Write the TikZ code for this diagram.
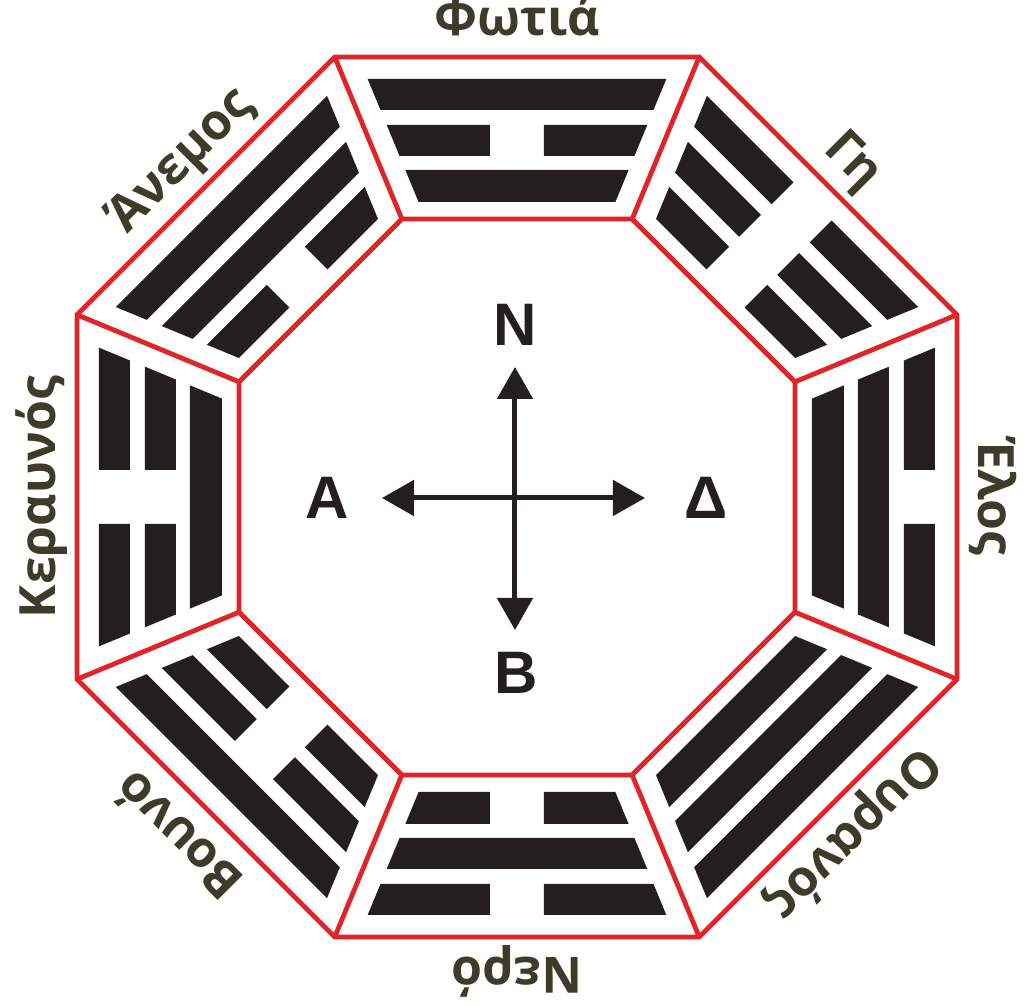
\documentclass[tikz,border=0pt]{standalone}
\usepackage{fontspec}
\usepackage{xcolor}
\usepackage{tikz}
\usetikzlibrary{arrows.meta,positioning}

\newfontfamily\lblfont{Open Sans}
\newfontfamily\dirfont{Liberation Sans}

\definecolor{octred}{RGB}{224,36,40}
\definecolor{barblack}{RGB}{35,31,32}
\definecolor{lblolive}{RGB}{61,60,42}

\begin{document}
\begin{tikzpicture}[
    x=0.5pt, y=0.5pt,
    octline/.style={draw=octred, line width=2.4pt, line join=miter},
    bar/.style={fill=barblack},
    lbl/.style={font=\lblfont\bfseries\fontsize{25}{29}\selectfont, text=lblolive, inner sep=0pt},
    dirlbl/.style={font=\dirfont\bfseries\fontsize{30}{34}\selectfont, text=barblack, inner sep=0pt},
    arrowline/.style={line width=2.5pt, draw=barblack, -{Triangle[length=16pt,width=17.5pt]}},
]
    \useasboundingbox (-517,-509) rectangle (507,497);

    % octagon corners
    \foreach \k in {0,...,7} {
        \coordinate (o\k) at (22.5+45*\k:476.3);
        \coordinate (i\k) at (22.5+45*\k:300.9);
    }

    % trigrams, outer / middle / inner line (1 = solid, 0 = broken)
    \foreach \ang/\lo/\lm/\li/\name [count=\n] in {
        90/1/0/1/Φωτιά, 45/0/0/0/Γη, 0/0/1/1/Έλος, -45/1/1/1/Ουρανός,
        -90/0/1/0/Νερό, -135/1/0/0/Βουνό, 180/0/0/1/Κεραυνός, 135/1/1/0/Άνεμος} {
        \begin{scope}[rotate=\ang-90]
            \foreach \val/\ra/\rb in {\lo/387/418, \lm/341/372, \li/295/327} {
                \ifnum\val=1
                    \fill[bar] ({-(\rb*0.41421-23.8)},\rb) -- ({\rb*0.41421-23.8},\rb)
                        -- ({\ra*0.41421-23.8},\ra) -- ({-(\ra*0.41421-23.8)},\ra) -- cycle;
                \else
                    \fill[bar] ({-(\rb*0.41421-23.8)},\rb) -- (-27,\rb)
                        -- (-27,\ra) -- ({-(\ra*0.41421-23.8)},\ra) -- cycle;
                    \fill[bar] (27,\rb) -- ({\rb*0.41421-23.8},\rb)
                        -- ({\ra*0.41421-23.8},\ra) -- (27,\ra) -- cycle;
                \fi
            }
        \end{scope}
        \node[lbl, rotate=\ang-90, anchor=base] (trig\n) at (\ang:461) {\name};
    }

    % red frame
    \draw[octline] (o0) -- (o1) -- (o2) -- (o3) -- (o4) -- (o5) -- (o6) -- (o7) -- cycle;
    \draw[octline] (i0) -- (i1) -- (i2) -- (i3) -- (i4) -- (i5) -- (i6) -- (i7) -- cycle;
    \foreach \k in {0,...,7}
        \draw[octline] (i\k) -- (o\k);

    % compass
    \coordinate (c) at (-2,-1);
    \coordinate (tipN) at (-2,130);
    \coordinate (tipB) at (-2,-133);
    \coordinate (tipA) at (-135,-1);
    \coordinate (tipD) at (128,-1);
    \draw[arrowline] (c) -- (tipN);
    \draw[arrowline] (c) -- (tipB);
    \draw[arrowline] (c) -- (tipA);
    \draw[arrowline] (c) -- (tipD);
    \node[dirlbl] (dirN) at (-2,172) {N};
    \node[dirlbl] (dirB) at (-1,-176) {B};
    \node[dirlbl] (dirA) at (-190,-1) {A};
    \node[dirlbl] (dirD) at (189,-1) {Δ};
\end{tikzpicture}
\end{document}
